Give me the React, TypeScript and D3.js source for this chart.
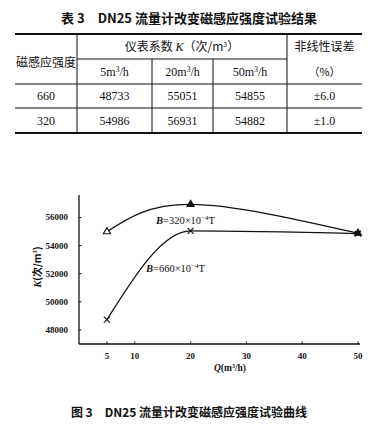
import React, { useRef, useEffect } from "react";
import * as d3 from "d3";

// table 3 / fig 3 data
const flowRates = [5, 20, 50];
const flowLabels = ["5", "20", "50"];
const fieldStrengths = ["660", "320"];
const k660 = [48733, 55051, 54855];
const k320 = [54986, 56931, 54882];
const nonlinearity = ["±6.0", "±1.0"];
const xTicks = [5, 10, 20, 30, 40, 50];
const yTicks = [48000, 50000, 52000, 54000, 56000];

const W = 385;
const H = 432;
const SERIF = "'Liberation Serif', 'DejaVu Serif', 'Noto Sans CJK SC', serif";
const CJK = "'Noto Sans CJK SC', 'Liberation Serif', serif";

export default function App() {
    const svgRef = useRef<SVGSVGElement | null>(null);

    useEffect(() => {
        if (!svgRef.current) return;
        const svg = d3.select(svgRef.current);
        svg.selectAll("*").remove();

        // ---------- title of table ----------
        svg.append("text")
            .attr("x", 189)
            .attr("y", 23)
            .attr("text-anchor", "middle")
            .attr("font-family", CJK)
            .attr("font-weight", "bold")
            .attr("font-size", 13)
            .attr("fill", "#111")
            .text("表 3　DN25 流量计改变磁感应强度试验结果");

        // ---------- table ----------
        const tl = 15, tr = 362;
        const cols = [tl, 77, 152, 213, 287, tr];
        const rows = [34, 59, 84, 108, 133];
        const tbl = svg.append("g").attr("stroke", "#111").attr("fill", "none");
        tbl.append("line").attr("x1", tl).attr("x2", tr).attr("y1", rows[0]).attr("y2", rows[0]).attr("stroke-width", 2);
        tbl.append("line").attr("x1", tl).attr("x2", tr).attr("y1", rows[4]).attr("y2", rows[4]).attr("stroke-width", 2);
        tbl.append("line").attr("x1", cols[1]).attr("x2", cols[4]).attr("y1", rows[1]).attr("y2", rows[1]).attr("stroke-width", 1);
        tbl.append("line").attr("x1", tl).attr("x2", tr).attr("y1", rows[2]).attr("y2", rows[2]).attr("stroke-width", 1);
        tbl.append("line").attr("x1", tl).attr("x2", tr).attr("y1", rows[3]).attr("y2", rows[3]).attr("stroke-width", 1);
        [1, 4].forEach((c) => {
            tbl.append("line").attr("x1", cols[c]).attr("x2", cols[c]).attr("y1", rows[0]).attr("y2", rows[4]).attr("stroke-width", 1);
        });
        [2, 3].forEach((c) => {
            tbl.append("line").attr("x1", cols[c]).attr("x2", cols[c]).attr("y1", rows[1]).attr("y2", rows[4]).attr("stroke-width", 1);
        });

        const cell = (x: number, y: number, fam: string, size: number) =>
            svg.append("text")
                .attr("x", x)
                .attr("y", y)
                .attr("text-anchor", "middle")
                .attr("font-family", fam)
                .attr("font-size", size)
                .attr("fill", "#111");

        cell((cols[0] + cols[1]) / 2, 67, CJK, 12).text("磁感应强度");
        const kh = cell((cols[1] + cols[4]) / 2, 51, CJK, 12);
        kh.append("tspan").text("仪表系数 ");
        kh.append("tspan").attr("font-family", SERIF).attr("font-style", "italic").text("K");
        kh.append("tspan").text("（次/m");
        kh.append("tspan").attr("font-size", 7).attr("dy", -4).text("3");
        kh.append("tspan").attr("dy", 4).text("）");
        cell((cols[4] + cols[5]) / 2, 51, CJK, 12).text("非线性误差");
        cell((cols[4] + cols[5]) / 2, 76, CJK, 11).text("（%）");

        flowLabels.forEach((f, i) => {
            const t = cell((cols[i + 1] + cols[i + 2]) / 2, 76, SERIF, 12);
            t.append("tspan").text(f + "m");
            t.append("tspan").attr("font-size", 7.5).attr("dy", -4).text("3");
            t.append("tspan").attr("dy", 4).text("/h");
        });

        const tableRows = [k660, k320];
        fieldStrengths.forEach((b, r) => {
            const y = (rows[r + 2] + rows[r + 3]) / 2 + 4;
            cell((cols[0] + cols[1]) / 2, y, SERIF, 12).text(b);
            tableRows[r].forEach((v, i) => {
                cell((cols[i + 1] + cols[i + 2]) / 2, y, SERIF, 12).text(String(v));
            });
            cell((cols[4] + cols[5]) / 2, y, SERIF, 12).text(nonlinearity[r]);
        });

        // ---------- chart ----------
        const x = d3.scaleLinear().domain([0, 50]).range([79, 358]);
        const y = d3.scaleLinear().domain([47000, 57600]).range([344, 195]);

        const axes = svg.append("g").attr("stroke", "#111").attr("stroke-width", 1.3);
        axes.append("line").attr("x1", x(0)).attr("x2", x(50) + 2).attr("y1", y(47000)).attr("y2", y(47000));
        axes.append("line").attr("x1", x(0)).attr("x2", x(0)).attr("y1", y(47000)).attr("y2", y(57600));

        xTicks.forEach((t) => {
            axes.append("line").attr("x1", x(t)).attr("x2", x(t)).attr("y1", y(47000)).attr("y2", y(47000) - 2.5).attr("stroke-width", 1);
            svg.append("text")
                .attr("x", x(t))
                .attr("y", 359)
                .attr("text-anchor", "middle")
                .attr("font-family", SERIF)
                .attr("font-weight", "bold")
                .attr("font-size", 9)
                .attr("fill", "#111")
                .text(String(t));
        });
        yTicks.forEach((t) => {
            axes.append("line").attr("x1", x(0)).attr("x2", x(0) + 2.5).attr("y1", y(t)).attr("y2", y(t)).attr("stroke-width", 1);
            svg.append("text")
                .attr("x", 68)
                .attr("y", y(t) + 3)
                .attr("text-anchor", "end")
                .attr("font-family", SERIF)
                .attr("font-weight", "bold")
                .attr("font-size", 9)
                .attr("fill", "#111")
                .text(String(t));
        });

        const xl = svg.append("text")
            .attr("x", 230)
            .attr("y", 371)
            .attr("text-anchor", "middle")
            .attr("font-family", SERIF)
            .attr("font-weight", "bold")
            .attr("font-size", 9.5)
            .attr("fill", "#111");
        xl.append("tspan").attr("font-style", "italic").text("Q");
        xl.append("tspan").text("(m");
        xl.append("tspan").attr("font-size", 6).attr("dy", -3.5).text("3");
        xl.append("tspan").attr("dy", 3.5).text("/h)");

        const yl = svg.append("text")
            .attr("transform", "translate(41,267) rotate(-90)")
            .attr("text-anchor", "middle")
            .attr("font-family", SERIF)
            .attr("font-weight", "bold")
            .attr("font-size", 10)
            .attr("fill", "#111");
        yl.append("tspan").attr("font-style", "italic").text("K");
        yl.append("tspan").attr("font-family", CJK).text("(次/m");
        yl.append("tspan").attr("font-size", 6.5).attr("dy", -4).text("3");
        yl.append("tspan").attr("dy", 4).attr("font-family", CJK).text(")");

        const series = [
            { vals: k320, curve: d3.curveNatural, sym: d3.symbolTriangle },
            { vals: k660, curve: d3.curveMonotoneX, sym: d3.symbolTimes },
        ];
        series.forEach((s) => {
            const pts = flowRates.map((q, i) => [q, s.vals[i]] as [number, number]);
            const line = d3.line<[number, number]>()
                .x((d) => x(d[0]))
                .y((d) => y(d[1]))
                .curve(s.curve);
            svg.append("path")
                .datum(pts)
                .attr("fill", "none")
                .attr("stroke", "#111")
                .attr("stroke-width", 1.3)
                .attr("d", line);
            pts.forEach((p, i) => {
                const filled = s.sym === d3.symbolTriangle && i > 0;
                svg.append("path")
                    .attr("transform", `translate(${x(p[0])},${y(p[1])})`)
                    .attr("d", d3.symbol(s.sym, s.sym === d3.symbolTriangle ? 22 : 26)())
                    .attr("fill", s.sym === d3.symbolTriangle ? (filled ? "#111" : "#fff") : "none")
                    .attr("stroke", "#111")
                    .attr("stroke-width", 1.1);
            });
        });

        const label = (lx: number, ly: number, b: string) => {
            const t = svg.append("text")
                .attr("x", lx)
                .attr("y", ly)
                .attr("font-family", SERIF)
                .attr("font-size", 10.5)
                .attr("fill", "#111");
            t.append("tspan").attr("font-style", "italic").attr("font-weight", "bold").text("B");
            t.append("tspan").text("=" + b + "×10");
            t.append("tspan").attr("font-size", 7).attr("dy", -4).text("−4");
            t.append("tspan").attr("dy", 4).text("T");
        };
        label(156, 224, "320");
        label(146, 272, "660");

        // ---------- caption ----------
        svg.append("text")
            .attr("x", 189)
            .attr("y", 417)
            .attr("text-anchor", "middle")
            .attr("font-family", CJK)
            .attr("font-weight", "bold")
            .attr("font-size", 12)
            .attr("fill", "#111")
            .text("图 3　DN25 流量计改变磁感应强度试验曲线");
    }, []);

    return (
        <svg
            ref={svgRef}
            width={W}
            height={H}
            style={{ position: "absolute", left: 0, top: 0, background: "#fff" }}
        ></svg>
    );
}
